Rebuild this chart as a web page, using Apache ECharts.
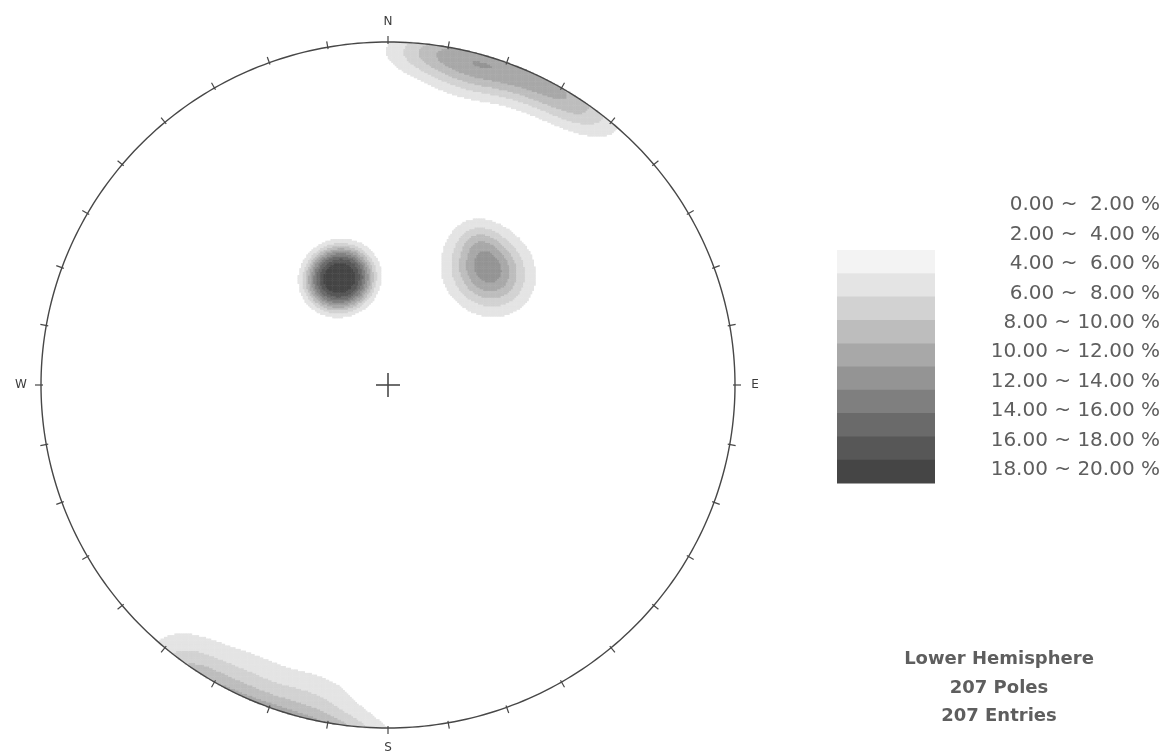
<!DOCTYPE html>
<html>
<head>
<meta charset="utf-8">
<script src="https://cdn.jsdelivr.net/npm/echarts@6/dist/echarts.min.js"></script>
<style>
  html, body { margin: 0; padding: 0; background: #ffffff; }
  #chart { width: 1165px; height: 756px; }
</style>
</head>
<body>
<div id="chart"></div>
<script>
// Pole concentrations on the lower hemisphere: trend (deg), plunge (deg),
// angular spread (deg), peak density (%) and kernel exponent of each one.
const clusterTrend  = [336, 41, 32, 6, 12, 18, 24, 30, 35, 14, 193, 206, 216];
const clusterPlunge = [62, 53.5, 49, 3, 3, 3, 3, 3, 2, 9, 8, 8, 6];
const clusterSpread = [5.9, 5.9, 3.5, 5, 5.5, 5.5, 5.5, 5.5, 5, 5, 6, 6, 5];
const clusterPeak   = [20, 11.2, 2.5, 3.5, 3.8, 4, 3.8, 3.5, 3, 2, 2.8, 2.5, 1.5];
const clusterPower  = [3.2, 2, 2, 2, 2, 2, 2, 2, 2, 2, 2, 2, 2];

// Contour levels (%) and their fill greys
const levels  = [0, 2, 4, 6, 8, 10, 12, 14, 16, 18, 20];
const palette = ['#f3f3f3', '#e4e4e4', '#d2d2d2', '#bdbdbd', '#a8a8a8',
                 '#949494', '#7f7f7f', '#6a6a6a', '#575757', '#454545'];

// Compass labels and net tick spacing
const compassLabels = ['N', 'E', 'S', 'W'];
const tickStep = 10;

const infoLines = ['Lower Hemisphere', '207 Poles', '207 Entries'];

const FONT = 'DejaVu Sans';
const D2R = Math.PI / 180;

// ---- density grid on the equal-area (Schmidt) net ----
const N = 400;
const cats = Array.from({ length: N }, (_, i) => i);
const centers = clusterTrend.map((t, k) => {
  const p = clusterPlunge[k] * D2R, tr = t * D2R;
  return [Math.cos(p) * Math.sin(tr), Math.cos(p) * Math.cos(tr), -Math.sin(p)];
});
const cells = [];
for (let j = 0; j < N; j++) {
  const y = -1 + (2 * j + 1) / N;
  for (let i = 0; i < N; i++) {
    const x = -1 + (2 * i + 1) / N;
    const r2 = x * x + y * y;
    if (r2 > 1) continue;
    const r = Math.sqrt(r2);
    const theta = 2 * Math.asin(Math.min(1, r / Math.SQRT2));
    const az = Math.atan2(x, y);
    const n = [Math.sin(theta) * Math.sin(az), Math.sin(theta) * Math.cos(az), -Math.cos(theta)];
    let v = 0;
    for (let k = 0; k < centers.length; k++) {
      const c = centers[k];
      const dot = Math.abs(n[0] * c[0] + n[1] * c[1] + n[2] * c[2]);
      const d = Math.acos(Math.min(1, dot)) / D2R;
      v += clusterPeak[k] * Math.exp(-0.5 * Math.pow(d / clusterSpread[k], clusterPower[k]));
    }
    if (v >= 2) cells.push([i, j, Math.min(v, 19.99)]);
  }
}

const pieces = palette.map((col, k) => (
  k === palette.length - 1
    ? { gte: levels[k], lte: levels[k + 1], color: col }
    : { gte: levels[k], lt: levels[k + 1], color: col }
));

// ---- legend: grey bar and range labels ----
const fmt = (v) => v.toFixed(2);
const graphics = [];
const barX = 837, barY = 250, barW = 98, bandH = 23.3;
palette.forEach((col, k) => {
  graphics.push({
    type: 'rect',
    shape: { x: barX, y: barY + k * bandH, width: barW, height: bandH + 0.5 },
    style: { fill: col }
  });
  const hi = levels[k + 1];
  const label = fmt(levels[k]) + ' ~ ' + (hi < 10 ? ' ' : '') + fmt(hi) + ' %';
  graphics.push({
    type: 'text',
    x: 1160, y: 205 + k * 29.45,
    style: {
      text: label, fill: '#5e5e5e', font: '20px "' + FONT + '"',
      align: 'right', verticalAlign: 'middle'
    }
  });
});
infoLines.forEach((t, k) => {
  graphics.push({
    type: 'text',
    x: 999, y: [659, 688, 716][k],
    style: {
      text: t, fill: '#5e5e5e', font: 'bold 18px "' + FONT + '"',
      align: 'center', verticalAlign: 'middle'
    }
  });
});

// ---- net outline, ticks, centre cross and compass letters ----
function renderNet(params, api) {
  const c = api.coord([0, 0]);
  const e = api.coord([1, 0]);
  const n = api.coord([0, 1]);
  const rx = e[0] - c[0], ry = c[1] - n[1];
  const at = (azDeg, dr) => {
    const a = azDeg * D2R;
    return [c[0] + (rx + dr) * Math.sin(a), c[1] - (ry + dr) * Math.cos(a)];
  };
  const stroke = '#474747';
  const children = [];
  const ring = [];
  for (let a = 0; a <= 360; a += 1) ring.push(at(a, 0));
  children.push({ type: 'polyline', shape: { points: ring },
    style: { stroke: stroke, lineWidth: 1.4, fill: null } });
  for (let a = 0; a < 360; a += tickStep) {
    const p0 = at(a, -2), p1 = at(a, 6);
    children.push({ type: 'line', shape: { x1: p0[0], y1: p0[1], x2: p1[0], y2: p1[1] },
      style: { stroke: stroke, lineWidth: 1.2 } });
  }
  const arm = 12;
  children.push({ type: 'line', shape: { x1: c[0] - arm, y1: c[1], x2: c[0] + arm, y2: c[1] },
    style: { stroke: '#4a4a4a', lineWidth: 1.6 } });
  children.push({ type: 'line', shape: { x1: c[0], y1: c[1] - arm, x2: c[0], y2: c[1] + arm },
    style: { stroke: '#4a4a4a', lineWidth: 1.6 } });
  compassLabels.forEach((lab, k) => {
    const p = at(k * 90, 20);
    children.push({ type: 'text', x: p[0], y: p[1],
      style: { text: lab, fill: '#3c3c3c', font: '12px "' + FONT + '"',
        align: 'center', verticalAlign: 'middle' } });
  });
  return { type: 'group', children: children };
}

const chart = echarts.init(document.getElementById('chart'), null, { renderer: 'canvas' });
chart.setOption({
  backgroundColor: '#ffffff',
  animation: false,
  grid: { left: 41, top: 42, width: 694, height: 686 },
  xAxis: [
    { type: 'category', data: cats, show: false },
    { type: 'value', min: -1, max: 1, show: false }
  ],
  yAxis: [
    { type: 'category', data: cats, show: false },
    { type: 'value', min: -1, max: 1, show: false }
  ],
  visualMap: {
    type: 'piecewise', show: false, seriesIndex: 0, dimension: 2,
    pieces: pieces, outOfRange: { color: 'rgba(0,0,0,0)' }
  },
  series: [
    {
      type: 'heatmap', xAxisIndex: 0, yAxisIndex: 0, data: cells,
      progressive: 0, silent: true, itemStyle: { borderWidth: 0 },
      emphasis: { disabled: true }
    },
    {
      type: 'custom', xAxisIndex: 1, yAxisIndex: 1, data: [[0, 0]],
      renderItem: renderNet, silent: true, z: 10
    }
  ],
  graphic: graphics
});
</script>
</body>
</html>
